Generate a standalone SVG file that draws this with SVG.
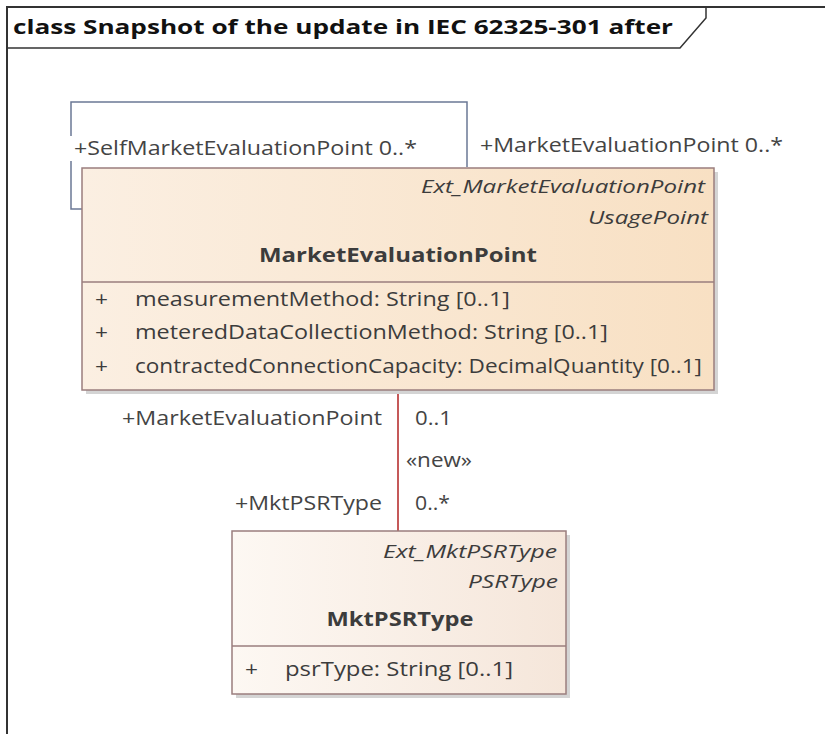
<svg xmlns="http://www.w3.org/2000/svg" width="825" height="734" viewBox="0 0 825 734">
<style>
text{font-family:"Open Sans","Noto Sans","Liberation Sans",sans-serif;fill:#3c3c3c}
.t{font-size:19.5px}
.i{font-size:19px;font-style:italic;text-anchor:end}
.b{font-size:20px;font-weight:bold;text-anchor:middle}
.lbl{font-size:19.5px;fill:#444}
.box{stroke:#9a7e7e;stroke-width:1.5}
.shadow{fill:#d4d4d4}
</style>
<defs>
<linearGradient id="g1" x1="0" y1="0" x2="1" y2="0">
<stop offset="0" stop-color="#fbefe2"/>
<stop offset="1" stop-color="#f8e0c3"/>
</linearGradient>
<linearGradient id="g2" x1="0" y1="0" x2="1" y2="0">
<stop offset="0" stop-color="#fdf8f3"/>
<stop offset="1" stop-color="#f5e6da"/>
</linearGradient>
</defs>
<rect width="825" height="734" fill="#ffffff"/>
<g id="frame">
<path d="M7,740 V7 H830" fill="none" stroke="#333" stroke-width="2"/>
<path d="M7,48 H680 L706,18 V7" fill="none" stroke="#333" stroke-width="1.5"/>
<text x="13" y="34" textLength="660" lengthAdjust="spacingAndGlyphs" style="font-size:20px;font-weight:bold;fill:#111">class Snapshot of the update in IEC 62325-301 after</text>
</g>
<g id="connectors">
<path d="M82,209 H71 V102 H467 V167" fill="none" stroke="#6b7895" stroke-width="1.5"/>
<line x1="398" y1="390" x2="398" y2="531" stroke="#b22222" stroke-width="1.5"/>
<rect x="70" y="136" width="352" height="25" fill="#fff"/>
<text class="lbl" x="74" y="155" textLength="343" lengthAdjust="spacingAndGlyphs">+SelfMarketEvaluationPoint 0..*</text>
<text class="lbl" x="480" y="152" textLength="303" lengthAdjust="spacingAndGlyphs">+MarketEvaluationPoint 0..*</text>
<text class="lbl" x="382" y="425" text-anchor="end" textLength="260" lengthAdjust="spacingAndGlyphs">+MarketEvaluationPoint</text>
<text class="lbl" x="415" y="425" textLength="37" lengthAdjust="spacingAndGlyphs">0..1</text>
<text class="lbl" x="406" y="467" textLength="66" lengthAdjust="spacingAndGlyphs">«new»</text>
<text class="lbl" x="382" y="510" text-anchor="end" textLength="147" lengthAdjust="spacingAndGlyphs">+MktPSRType</text>
<text class="lbl" x="415" y="510" textLength="35" lengthAdjust="spacingAndGlyphs">0..*</text>
</g>
<g id="MarketEvaluationPoint">
<rect class="shadow" x="86" y="172" width="632" height="222"/>
<rect class="box" x="82" y="168" width="632" height="222" fill="url(#g1)"/>
<line class="box" x1="82" y1="282" x2="714" y2="282"/>
<text class="i" x="705" y="193" textLength="284" lengthAdjust="spacingAndGlyphs">Ext_MarketEvaluationPoint</text>
<text class="i" x="708" y="224" textLength="120" lengthAdjust="spacingAndGlyphs">UsagePoint</text>
<text class="b" x="398" y="262" textLength="278" lengthAdjust="spacingAndGlyphs">MarketEvaluationPoint</text>
<text class="t" x="95" y="306" textLength="13" lengthAdjust="spacingAndGlyphs">+</text>
<text class="t" x="135" y="306" textLength="375" lengthAdjust="spacingAndGlyphs">measurementMethod: String [0..1]</text>
<text class="t" x="95" y="339" textLength="13" lengthAdjust="spacingAndGlyphs">+</text>
<text class="t" x="135" y="339" textLength="473" lengthAdjust="spacingAndGlyphs">meteredDataCollectionMethod: String [0..1]</text>
<text class="t" x="95" y="373" textLength="13" lengthAdjust="spacingAndGlyphs">+</text>
<text class="t" x="135" y="373" textLength="567" lengthAdjust="spacingAndGlyphs">contractedConnectionCapacity: DecimalQuantity [0..1]</text>
</g>
<g id="MktPSRType">
<rect class="shadow" x="236" y="535" width="334" height="163"/>
<rect class="box" x="232" y="531" width="334" height="163" fill="url(#g2)"/>
<line class="box" x1="232" y1="646" x2="566" y2="646"/>
<text class="i" x="557" y="558" textLength="174" lengthAdjust="spacingAndGlyphs">Ext_MktPSRType</text>
<text class="i" x="558" y="588" textLength="90" lengthAdjust="spacingAndGlyphs">PSRType</text>
<text class="b" x="400" y="626" textLength="147" lengthAdjust="spacingAndGlyphs">MktPSRType</text>
<text class="t" x="245" y="676" textLength="13" lengthAdjust="spacingAndGlyphs">+</text>
<text class="t" x="285" y="676" textLength="228" lengthAdjust="spacingAndGlyphs">psrType: String [0..1]</text>
</g>
</svg>
